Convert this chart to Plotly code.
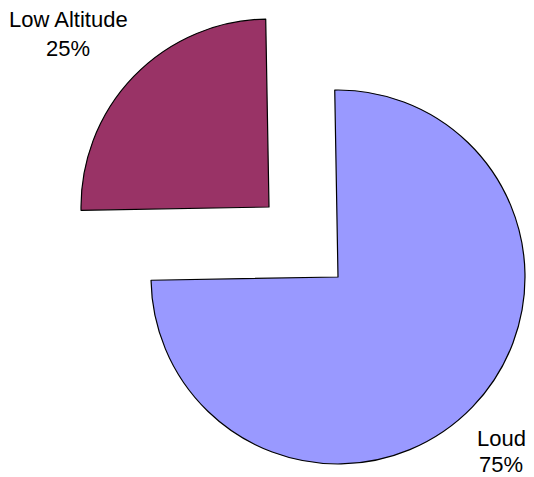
import plotly.graph_objects as go

labels = ["Low Altitude", "Loud"]
values = [25, 75]
colors = ["#993366", "#9999FF"]

PW, PH = 534, 477   # page size
OFF = 8             # default page body margin
W, H = PW - OFF, PH - OFF

def dom(x0, x1, y0, y1):
    return dict(x=[(x0 - OFF) / W, (x1 - OFF) / W],
                y=[1 - (y1 - OFF) / H, 1 - (y0 - OFF) / H])

def px(x, y):
    return (x - OFF) / W, 1 - (y - OFF) / H

common = dict(labels=labels, values=values, sort=False, direction="clockwise",
              rotation=-91, textinfo="none",
              showlegend=False, hoverinfo="label+percent")

fig = go.Figure()
# Exploded Low Altitude slice (Loud hidden in this trace)
fig.add_trace(go.Pie(
    marker=dict(colors=[colors[0], "rgba(0,0,0,0)"],
                line=dict(color=["black", "rgba(0,0,0,0)"], width=[1.2, 0])),
    domain=dom(81, 457, 19, 395), **common,
))
# Loud slice (Low Altitude hidden in this trace)
fig.add_trace(go.Pie(
    marker=dict(colors=["rgba(0,0,0,0)", colors[1]],
                line=dict(color=["rgba(0,0,0,0)", "black"], width=[0, 1.2])),
    domain=dom(151, 525, 89, 465), **common,
))

# Outside labels: name and percentage
total = sum(values)
label_pos = [((68, 20), (68, 49)), ((501, 438), (501, 464))]
font = dict(family="Liberation Sans", size=22, color="black")
for lab, val, (p1, p2) in zip(labels, values, label_pos):
    pct = f"{round(100 * val / total)}%"
    for txt, p in ((lab, p1), (pct, p2)):
        x, y = px(*p)
        fig.add_annotation(text=txt, x=x, y=y, xref="paper", yref="paper",
                           xanchor="center", yanchor="middle", showarrow=False,
                           borderpad=0, font=font)

fig.update_layout(
    width=W, height=H,
    margin=dict(l=0, r=0, t=0, b=0),
    paper_bgcolor="white", plot_bgcolor="white",
    font=dict(family="Liberation Sans"),
)

fig.write_html("out.html")
